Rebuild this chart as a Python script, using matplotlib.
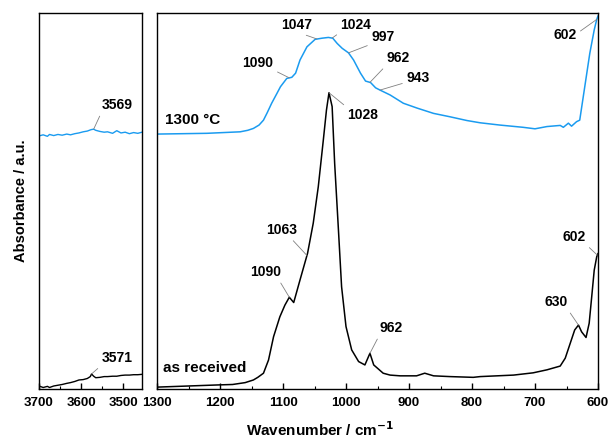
import numpy as np
import matplotlib
matplotlib.use("Agg")
import matplotlib.pyplot as plt
from matplotlib.ticker import MultipleLocator

plt.rcParams['font.family'] = ['Liberation Sans', 'DejaVu Sans']
plt.rcParams['font.weight'] = 'bold'

# ---- data (absorbance in a.u.) ----
# as received, 1300-600 cm-1
rec_wn = [1300, 1250, 1200, 1180, 1160, 1147, 1140, 1131, 1123, 1115, 1105, 1097, 1090, 1083, 1073, 1061,
          1052, 1044, 1036, 1031, 1027, 1022, 1018, 1012, 1007, 1000, 991, 980, 970, 962, 956,
          941, 930, 914, 888, 875, 861, 835, 798, 787, 734, 703, 681, 660, 652, 644, 637,
          631, 626, 619, 614, 610, 606, 602, 600]
rec_ab = [0.005, 0.008, 0.011, 0.012, 0.017, 0.024, 0.031, 0.042, 0.077, 0.139, 0.192, 0.223, 0.244, 0.230, 0.290, 0.361,
          0.441, 0.538, 0.662, 0.742, 0.788, 0.751, 0.600, 0.423, 0.272, 0.166, 0.104, 0.073, 0.064, 0.095, 0.064,
          0.042, 0.037, 0.035, 0.035, 0.042, 0.035, 0.033, 0.031, 0.033, 0.037, 0.043, 0.051, 0.061, 0.082, 0.122, 0.157,
          0.170, 0.152, 0.137, 0.175, 0.245, 0.316, 0.352, 0.360]

# 1300 °C, 1300-600 cm-1
ht_wn = [1300, 1221, 1168, 1156, 1147, 1138, 1131, 1125, 1118, 1110, 1104, 1094, 1086, 1080, 1073, 1062, 1049, 1038, 1028,
         1021, 1014, 1006, 996, 988, 977, 969, 961, 953, 946, 930, 909, 887, 861, 835, 808, 787, 756,
         719, 700, 681, 660, 655, 647, 642, 634, 629, 621, 613, 606, 602, 600]
ht_ab = [0.678, 0.680, 0.684, 0.688, 0.693, 0.702, 0.715, 0.735, 0.760, 0.785, 0.804, 0.826, 0.829, 0.840, 0.875, 0.910, 0.930, 0.933, 0.935,
         0.933, 0.919, 0.906, 0.894, 0.875, 0.840, 0.819, 0.815, 0.801, 0.795, 0.782, 0.760, 0.747, 0.733, 0.724, 0.714, 0.708, 0.702,
         0.696, 0.692, 0.698, 0.701, 0.696, 0.707, 0.699, 0.711, 0.715, 0.804, 0.893, 0.955, 0.983, 0.992]

# O-H region, 3700-3455 cm-1
oh_wn = [3700, 3690, 3680, 3675, 3665, 3655, 3645, 3634, 3625, 3615, 3605, 3595, 3585, 3578,
         3575, 3570, 3565, 3555, 3545, 3537, 3525, 3515, 3505, 3495, 3485, 3475, 3465, 3455]
oh_rec = [0.008, 0.004, 0.007, 0.004, 0.008, 0.010, 0.012, 0.015, 0.017, 0.020, 0.024, 0.025, 0.028, 0.033,
          0.040, 0.034, 0.030, 0.031, 0.033, 0.033, 0.034, 0.034, 0.036, 0.037, 0.037, 0.038, 0.038, 0.039]
oh_ht = [0.673, 0.676, 0.672, 0.677, 0.674, 0.677, 0.675, 0.678, 0.676, 0.679, 0.681, 0.684, 0.686, 0.689,
         0.690, 0.691, 0.688, 0.685, 0.683, 0.684, 0.680, 0.687, 0.681, 0.683, 0.679, 0.682, 0.680, 0.683]

# peak labels: (label, peak wavenumber, text x, text y, relpos)
rec_peaks = [("1063", 1062, 1101.6, 0.423, (0.75, 0.0)),
             ("1090", 1090, 1127.0, 0.311, (0.9, 0.0)),
             ("1028", 1027, 973.0, 0.729, (0.0, 1.0)),
             ("962", 962, 928.6, 0.162, (0.0, 0.0)),
             ("630", 631, 666.7, 0.231, (1.0, 0.0)),
             ("602", 601, 638.1, 0.404, (1.0, 0.0))]
ht_peaks = [("1090", 1090, 1139.7, 0.867, (1.0, 0.0)),
            ("1047", 1046, 1077.8, 0.968, (0.5, 0.0)),
            ("1024", 1022, 984.1, 0.968, (0.0, 0.0)),
            ("997", 996, 941.3, 0.936, (0.0, 0.0)),
            ("962", 962, 917.5, 0.880, (0.0, 0.0)),
            ("943", 946, 885.7, 0.827, (0.0, 0.2)),
            ("602", 602, 652.4, 0.941, (1.0, 0.6))]
oh_rec_peaks = [("3571", 3575, 3514.3, 0.082, (0.0, 0.0))]
oh_ht_peaks = [("3569", 3570, 3514.3, 0.755, (0.0, 0.0))]

BLUE = '#1a9bf0'
BLACK = '#000000'
W, H = 608, 441
fig = plt.figure(figsize=(W / 100, H / 100), dpi=100)
axL = fig.add_axes([39 / W, 52 / H, 103 / W, 376 / H])
axR = fig.add_axes([157 / W, 52 / H, 441 / W, 376 / H])

def annotate(ax, wn, ab, peaks):
    order = np.argsort(wn)
    xs = np.asarray(wn)[order]
    ys = np.asarray(ab)[order]
    for lab, pw, tx, ty, rp in peaks:
        py = np.interp(pw, xs, ys)
        ax.annotate(lab, xy=(pw, py), xytext=(tx, ty), ha='center', va='center',
                    fontsize=10, fontweight='bold',
                    arrowprops=dict(arrowstyle='-', color='#808080', lw=0.6,
                                    shrinkA=1, shrinkB=0, relpos=rp))

axL.plot(oh_wn, oh_rec, color=BLACK, lw=1.0)
axL.plot(oh_wn, oh_ht, color=BLUE, lw=1.0)
annotate(axL, oh_wn, oh_rec, oh_rec_peaks)
annotate(axL, oh_wn, oh_ht, oh_ht_peaks)

axR.plot(rec_wn, rec_ab, color=BLACK, lw=1.1)
axR.plot(ht_wn, ht_ab, color=BLUE, lw=1.1)
annotate(axR, rec_wn, rec_ab, rec_peaks)
annotate(axR, ht_wn, ht_ab, ht_peaks)

axR.text(1287.3, 0.715, "1300 °C", fontsize=11, fontweight='bold', ha='left', va='center')
axR.text(1290.5, 0.056, "as received", fontsize=11, fontweight='bold', ha='left', va='center')

axL.set_xlim(3700, 3455)
axR.set_xlim(1300, 600)
for ax in (axL, axR):
    ax.set_ylim(0, 1)
    ax.set_yticks([])
    ax.xaxis.set_major_locator(MultipleLocator(100))
    ax.xaxis.set_minor_locator(MultipleLocator(50))
    ax.tick_params(axis='x', which='major', direction='in', length=4, width=1.0,
                   labelsize=9.5, pad=6)
    ax.tick_params(axis='x', which='minor', direction='in', length=2.5, width=0.8)
    for lab in ax.get_xticklabels():
        lab.set_fontweight('bold')
    for sp in ax.spines.values():
        sp.set_linewidth(1.0)

axL.set_ylabel("Absorbance / a.u.", fontsize=10.5, fontweight='bold', labelpad=8)
fig.text(320 / W, 1 - 430 / H, "Wavenumber / cm$^{\\mathbf{-1}}$", fontsize=11,
         fontweight='bold', ha='center', va='center')

fig.savefig("out.png", dpi=100)
